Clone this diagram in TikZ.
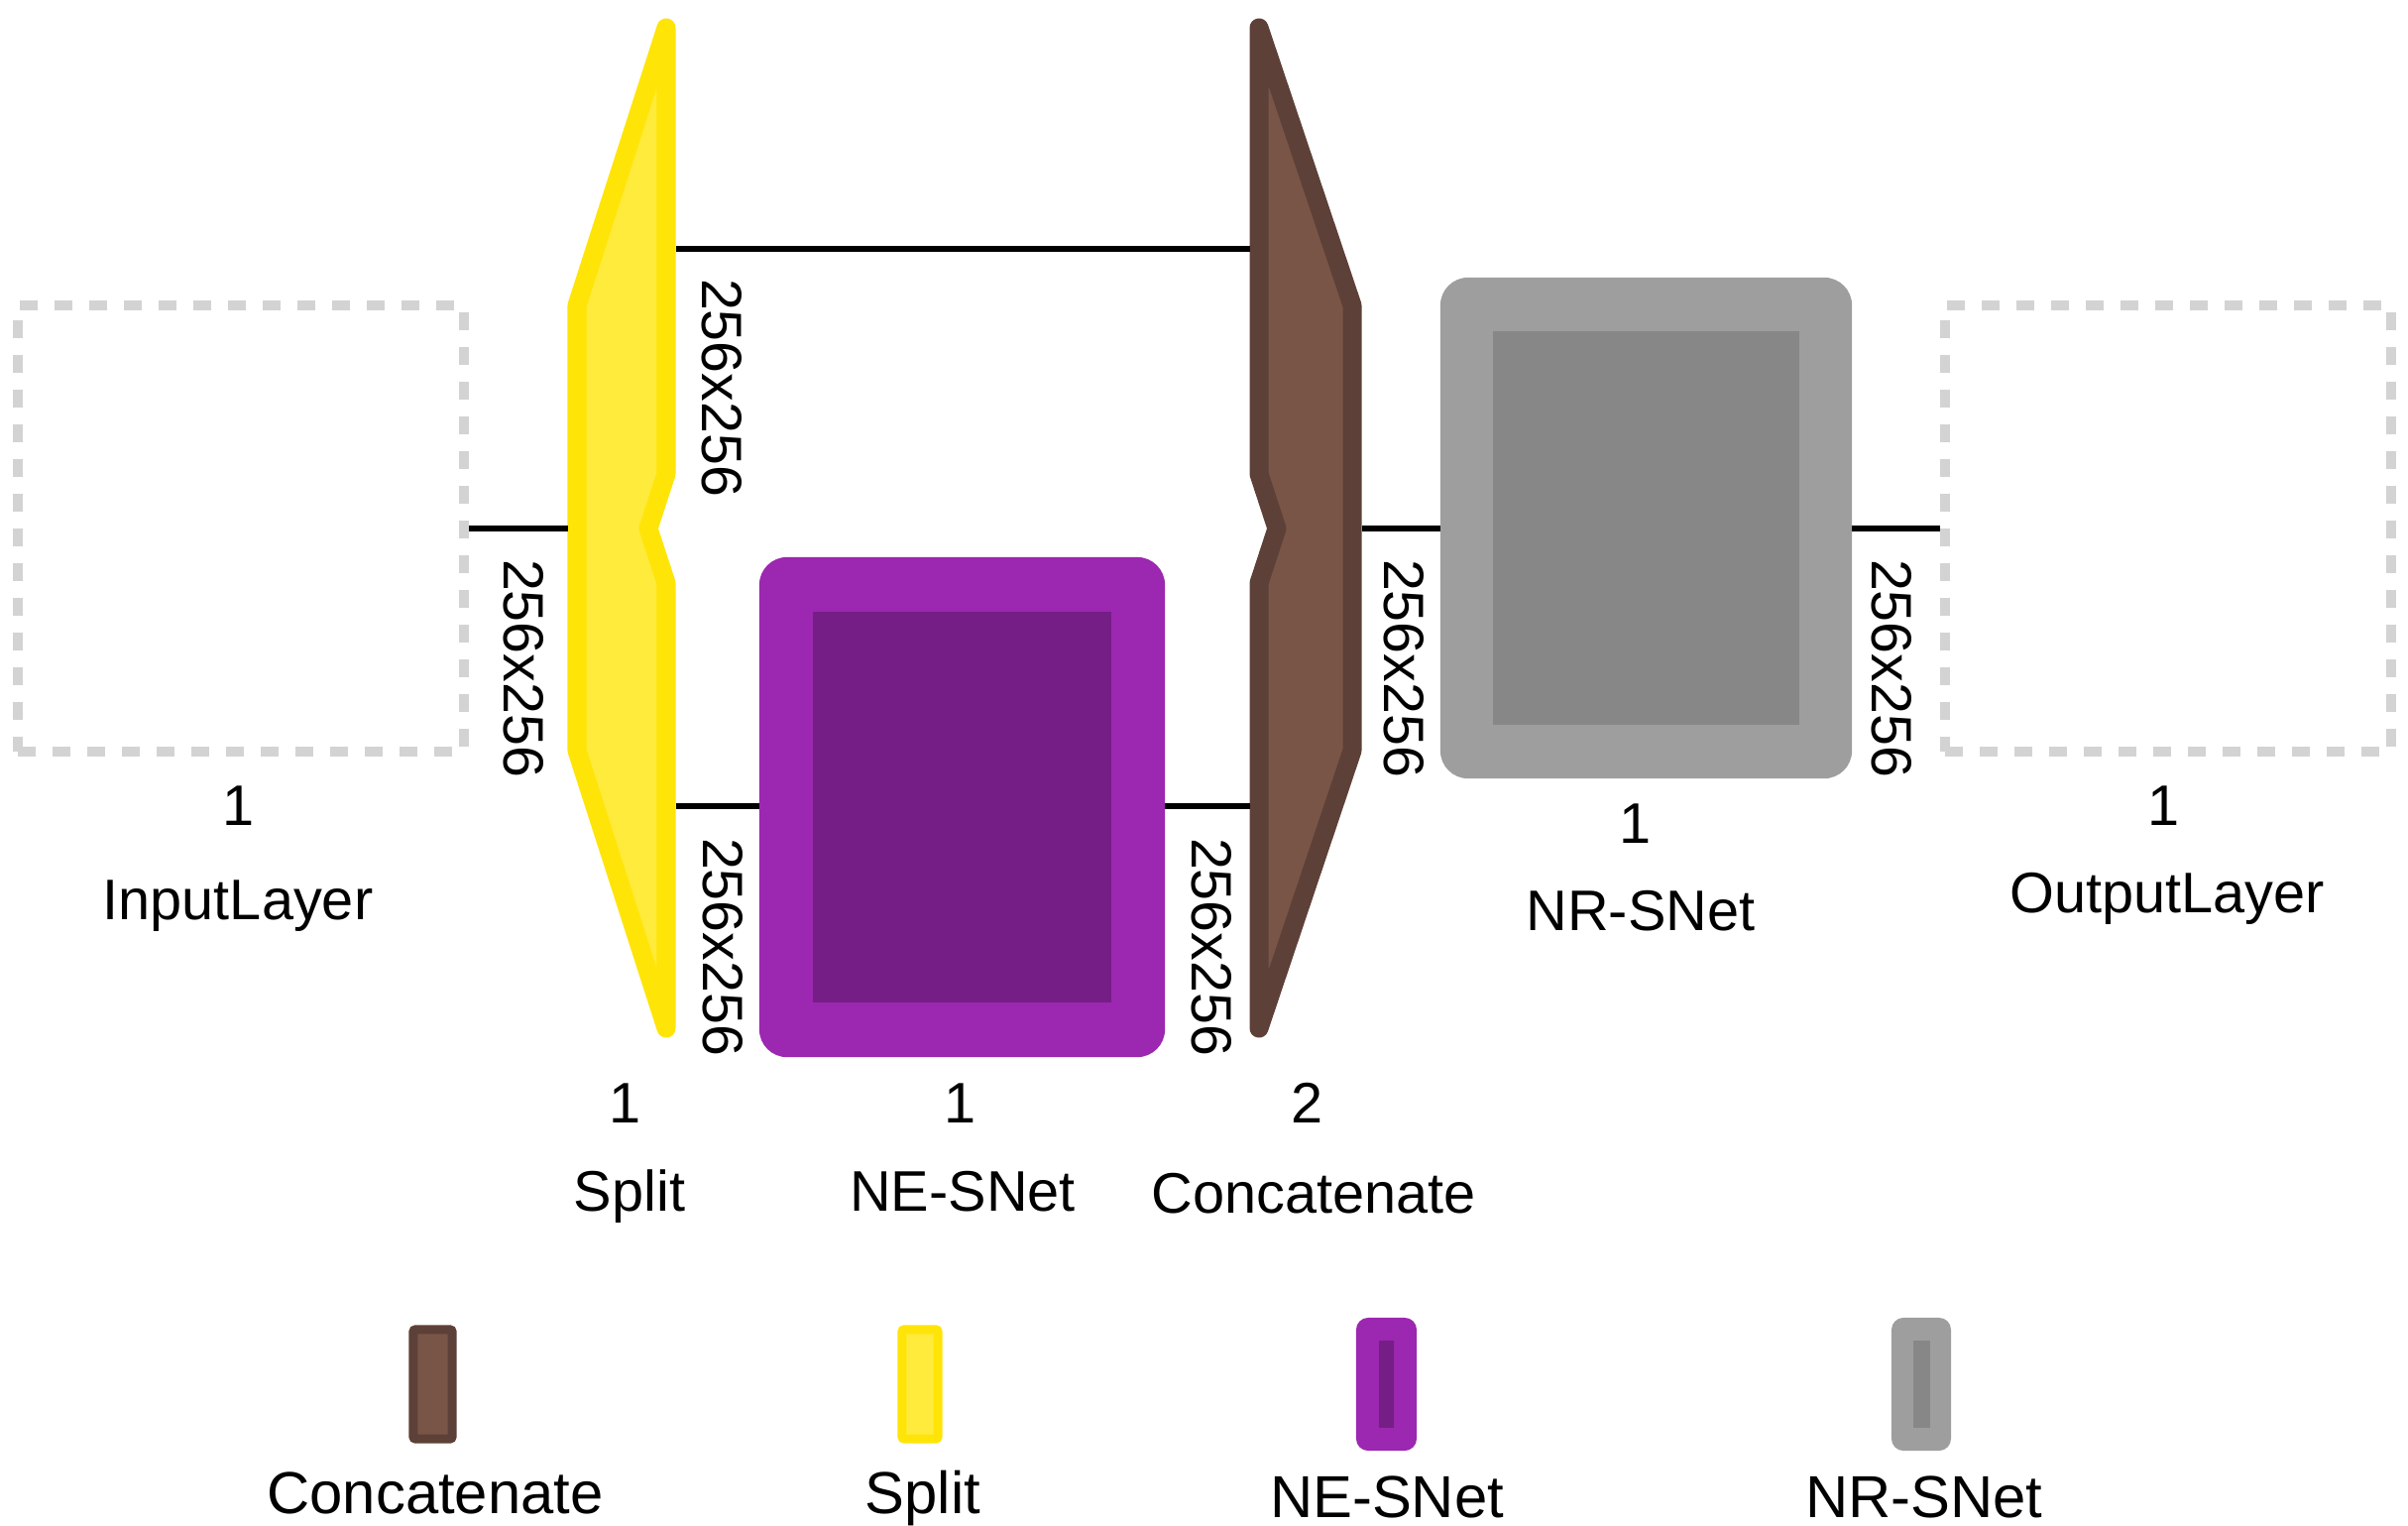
\documentclass[tikz,border=0pt]{standalone}
\usepackage{fontspec}
\setmainfont{Liberation Sans}
\definecolor{ghostgray}{HTML}{D3D3D3}
\definecolor{splitstroke}{RGB}{255,228,8}
\definecolor{splitfill}{RGB}{255,235,59}
\definecolor{catstroke}{HTML}{5D4037}
\definecolor{catfill}{HTML}{795548}
\definecolor{nepurple}{HTML}{9C27B0}
\definecolor{nedark}{RGB}{117,30,134}
\definecolor{nrgray}{HTML}{9E9E9E}
\definecolor{nrdark}{RGB}{135,135,135}
\begin{document}
\begin{tikzpicture}[x=0.01cm,y=-0.01cm,
  lbl/.style={anchor=base, inner sep=0, font=\fontsize{16.4}{19}\selectfont},
  leglbl/.style={anchor=base, inner sep=0, font=\fontsize{17}{20}\selectfont},
  dimlbl/.style={rotate=-90, inner sep=0, font=\fontsize{16.3}{19}\selectfont},
  conn/.style={line width=0.055cm, draw=black},
  ghost/.style={draw=ghostgray, line width=0.10cm, dash pattern=on 0.18cm off 0.17cm,
    minimum width=4.5cm, minimum height=4.5cm, inner sep=0, outer sep=0.05cm},
  wedge/.style={line width=0.19cm, line join=round},
  blockbox/.style={inner sep=0, outer sep=0, draw=none, rounded corners=0.28cm},
  corebox/.style={inner sep=0, outer sep=0, draw=none},
]
\useasboundingbox (0,0) rectangle (2429,1538);

% input / output placeholders
\node[ghost] (in) at (243,533) {};
\node[ghost] (out) at (2187,533) {};

% Split
\draw[wedge, draw=splitstroke, fill=splitfill]
  (672,28) -- (582,308) -- (582,757) -- (672,1037) -- (672,588) -- (654,533) -- (672,478) -- cycle;
\coordinate (splitin) at (573,533);
\coordinate (splitouta) at (682,251);
\coordinate (splitoutb) at (682,813);

% Concatenate
\draw[wedge, draw=catstroke, fill=catfill]
  (1270,28) -- (1364,308) -- (1364,757) -- (1270,1037) -- (1270,588) -- (1288,533) -- (1270,478) -- cycle;
\coordinate (catina) at (1261,251);
\coordinate (catinb) at (1261,813);
\coordinate (catout) at (1374,533);

% NE-SNet
\node[blockbox, fill=nepurple, minimum width=4.09cm, minimum height=5.04cm] (ne) at (970.5,814) {};
\node[corebox, fill=nedark, minimum width=3.01cm, minimum height=3.94cm] (necore) at (ne.center) {};

% NR-SNet
\node[blockbox, fill=nrgray, minimum width=4.15cm, minimum height=5.05cm] (nr) at (1660.5,532.5) {};
\node[corebox, fill=nrdark, minimum width=3.08cm, minimum height=3.96cm] (nrcore) at (nr.center) {};

% connectors
\draw[conn] (in.east) -- (splitin);
\draw[conn] (splitouta) -- (catina);
\draw[conn] (splitoutb) -- (ne.west |- splitoutb);
\draw[conn] (ne.east |- catinb) -- (catinb);
\draw[conn] (catout) -- (nr.west |- catout);
\draw[conn] (nr.east |- catout) -- (out.west |- catout);

% dimension labels
\node[dimlbl] (dima) at (528,674) {256x256};
\node[dimlbl] (dimb) at (728,391) {256x256};
\node[dimlbl] (dimc) at (729,955) {256x256};
\node[dimlbl] (dimd) at (1222,955) {256x256};
\node[dimlbl] (dime) at (1416,674) {256x256};
\node[dimlbl] (dimf) at (1908,674) {256x256};

% layer labels
\node[lbl] (incount) at (241,832) {1};
\node[lbl] (inname) at (240,927) {InputLayer};
\node[lbl] (outcount) at (2183,832) {1};
\node[lbl] (outname) at (2186,920) {OutputLayer};
\node[lbl] (nrcount) at (1650,850) {1};
\node[lbl] (nrname) at (1655,938) {NR-SNet};
\node[lbl] (splitcount) at (631,1132) {1};
\node[lbl] (splitname) at (635,1221) {Split};
\node[lbl] (necount) at (969,1132) {1};
\node[lbl] (nename) at (971,1221) {NE-SNet};
\node[lbl] (catcount) at (1319,1132) {2};
\node[lbl] (catname) at (1325,1223) {Concatenate};

% legend
\node[draw=catstroke, fill=catfill, line width=0.09cm, minimum width=0.39cm, minimum height=1.10cm,
  inner sep=0, rounded corners=0.02cm] (legcat) at (436.5,1396) {};
\node[draw=splitstroke, fill=splitfill, line width=0.09cm, minimum width=0.36cm, minimum height=1.10cm,
  inner sep=0, rounded corners=0.02cm] (legsplit) at (928,1396) {};
\node[corebox, fill=nepurple, rounded corners=0.12cm, minimum width=0.61cm, minimum height=1.34cm] (legne) at (1398.5,1396) {};
\node[corebox, fill=nedark, minimum width=0.15cm, minimum height=0.88cm] (legnecore) at (legne.center) {};
\node[corebox, fill=nrgray, rounded corners=0.12cm, minimum width=0.60cm, minimum height=1.34cm] (legnr) at (1938,1396) {};
\node[corebox, fill=nrdark, minimum width=0.17cm, minimum height=0.88cm] (legnrcore) at (legnr.center) {};

\node[leglbl] (legcatname) at (439,1526) {Concatenate};
\node[leglbl] (legsplitname) at (931,1526) {Split};
\node[leglbl] (legnename) at (1399,1530) {NE-SNet};
\node[leglbl] (legnrname) at (1941,1530) {NR-SNet};
\end{tikzpicture}
\end{document}
